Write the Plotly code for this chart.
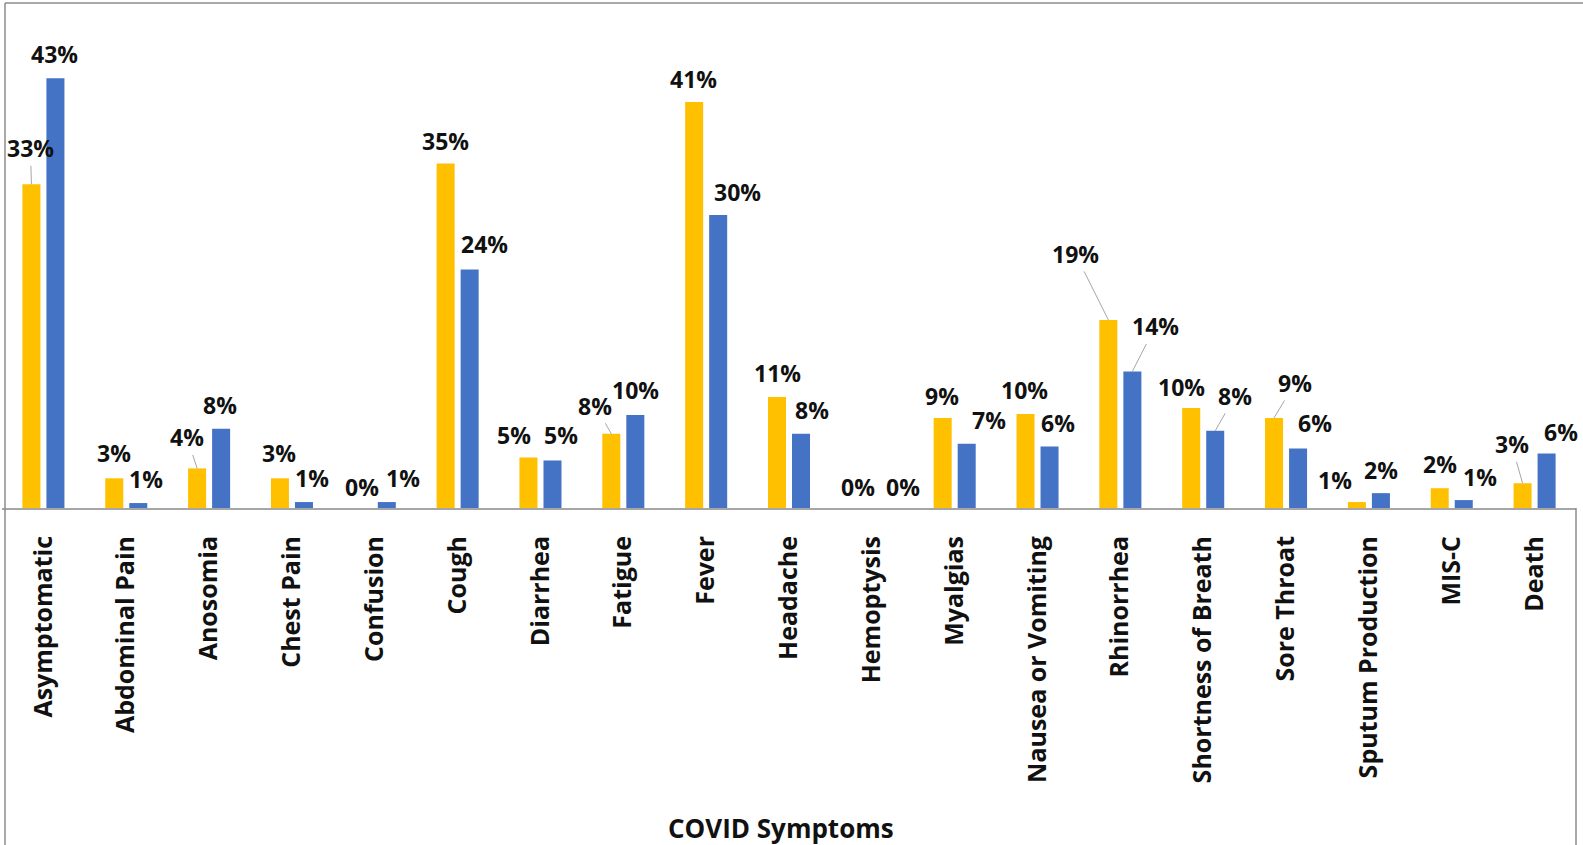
import plotly.graph_objects as go

# ---------------- data ----------------
categories = ["Asymptomatic", "Abdominal Pain", "Anosomia", "Chest Pain", "Confusion",
              "Cough", "Diarrhea", "Fatigue", "Fever", "Headache", "Hemoptysis",
              "Myalgias", "Nausea or Vomiting", "Rhinorrhea", "Shortness of Breath",
              "Sore Throat", "Sputum Production", "MIS-C", "Death"]

yellow_values = [32.7, 3.0, 4.0, 3.0, 0.0, 34.8, 5.1, 7.5, 41.0, 11.2, 0.0,
                 9.1, 9.5, 19.0, 10.1, 9.1, 0.6, 2.0, 2.5]
blue_values = [43.4, 0.5, 8.0, 0.6, 0.6, 24.1, 4.8, 9.4, 29.6, 7.5, 0.0,
               6.5, 6.2, 13.8, 7.8, 6.0, 1.5, 0.8, 5.5]

yellow_labels = ["33%", "3%", "4%", "3%", "0%", "35%", "5%", "8%", "41%", "11%", "0%",
                 "9%", "10%", "19%", "10%", "9%", "1%", "2%", "3%"]
blue_labels = ["43%", "1%", "8%", "1%", "1%", "24%", "5%", "10%", "30%", "8%", "0%",
               "7%", "6%", "14%", "8%", "6%", "2%", "1%", "6%"]

x_title = "COVID Symptoms"

# ---------------- label placement (pixels, relative to bar top) ----------------
yellow_label_offsets = [(-1, -36, True), (0, -25, False), (-10, -31, True), (-1, -25, False),
                        (-1, -21, False), (0, -22, False), (-14, -23, False), (-16, -28, True),
                        (-1, -23, False), (0, -24, False), (-2, -21, False), (-1, -22, False),
                        (-1, -24, False), (-33, -66, True), (-10, -21, False), (21, -35, True),
                        (-22, -22, False), (0, -24, False), (-11, -39, True)]
blue_label_offsets = [(-1, -24, False), (8, -24, False), (-1, -24, False), (8, -24, False),
                      (16, -24, False), (15, -25, False), (9, -25, False), (0, -25, False),
                      (19, -23, False), (11, -24, False), (19, -21, False), (22, -24, False),
                      (8, -24, False), (23, -45, True), (20, -35, True), (17, -26, False),
                      (0, -23, False), (16, -23, False), (14, -22, False)]

YELLOW = "#FFC000"
BLUE = "#4472C4"
GRID_GRAY = "#A6A6A6"
FONT = "Open Sans"

W, H = 1583, 845
ML, MR, MT = 2, 7, 3
BASE_Y = 508
MB = H - BASE_Y
PLOT_W = W - ML - MR
PLOT_H = BASE_Y - MT

fig = go.Figure()
fig.add_trace(go.Bar(x=categories, y=yellow_values, marker=dict(color=YELLOW, line=dict(width=0)),
                     name="Series 1", showlegend=False))
fig.add_trace(go.Bar(x=categories, y=blue_values, marker=dict(color=BLUE, line=dict(width=0)),
                     name="Series 2", showlegend=False))

BAR_SHIFT = 12
annotations = []
for series_vals, series_labels, offsets, shift in [
        (yellow_values, yellow_labels, yellow_label_offsets, -BAR_SHIFT),
        (blue_values, blue_labels, blue_label_offsets, BAR_SHIFT)]:
    for cat, v, lab, (dx, dy, leader) in zip(categories, series_vals, series_labels, offsets):
        if leader:
            annotations.append(dict(
                x=cat, y=v, xref="x", yref="y", text=lab, xshift=shift,
                showarrow=True, ax=dx, ay=dy, arrowhead=0, arrowwidth=1,
                arrowcolor=GRID_GRAY, standoff=0,
                font=dict(family=FONT, size=23, color="#111111", weight=700)))
        else:
            annotations.append(dict(
                x=cat, y=v, xref="x", yref="y", text=lab,
                xshift=shift + dx, yshift=-dy, showarrow=False,
                xanchor="center", yanchor="middle",
                font=dict(family=FONT, size=23, color="#111111", weight=700)))

# axis title
annotations.append(dict(
    text=x_title, xref="paper", yref="paper",
    x=(781 - ML) / PLOT_W, y=(BASE_Y - 828) / PLOT_H,
    xanchor="center", yanchor="middle", showarrow=False,
    font=dict(family=FONT, size=26, color="#111111", weight=700)))

def px_x(px):
    return (px - ML) / PLOT_W

def px_y(py):
    return (BASE_Y - py) / PLOT_H

line_style = dict(color="#8C8C8C", width=1.5)
shapes = [
    dict(type="line", xref="paper", yref="paper", x0=px_x(5), x1=px_x(5),
         y0=px_y(3), y1=px_y(H), line=line_style),
    dict(type="line", xref="paper", yref="paper", x0=px_x(5), x1=px_x(W),
         y0=px_y(3), y1=px_y(3), line=line_style),
    dict(type="line", xref="paper", yref="paper", x0=px_x(1576), x1=px_x(1576),
         y0=px_y(BASE_Y), y1=px_y(H), line=line_style),
]

fig.update_layout(
    width=W, height=H,
    margin=dict(l=ML, r=MR, t=MT, b=MB, pad=0),
    paper_bgcolor="white", plot_bgcolor="white",
    barmode="group", bargap=0.42, bargroupgap=0.25,
    annotations=annotations, shapes=shapes,
    xaxis=dict(
        type="category", range=[-0.5, len(categories) - 0.5],
        showline=True, linecolor=GRID_GRAY, linewidth=2,
        showgrid=False, zeroline=False, ticks="",
        tickangle=-90, ticklabelstandoff=16,
        tickfont=dict(family=FONT, size=25, color="#111111", weight=700),
        automargin=False, fixedrange=True),
    yaxis=dict(
        range=[0, PLOT_H / 9.9], visible=False, showgrid=False, zeroline=False,
        fixedrange=True),
    font=dict(family=FONT),
)

fig.write_html(
    "out.html",
    config={"displayModeBar": False},
    post_script="document.body.style.margin='0';document.body.style.overflow='hidden';",
)
